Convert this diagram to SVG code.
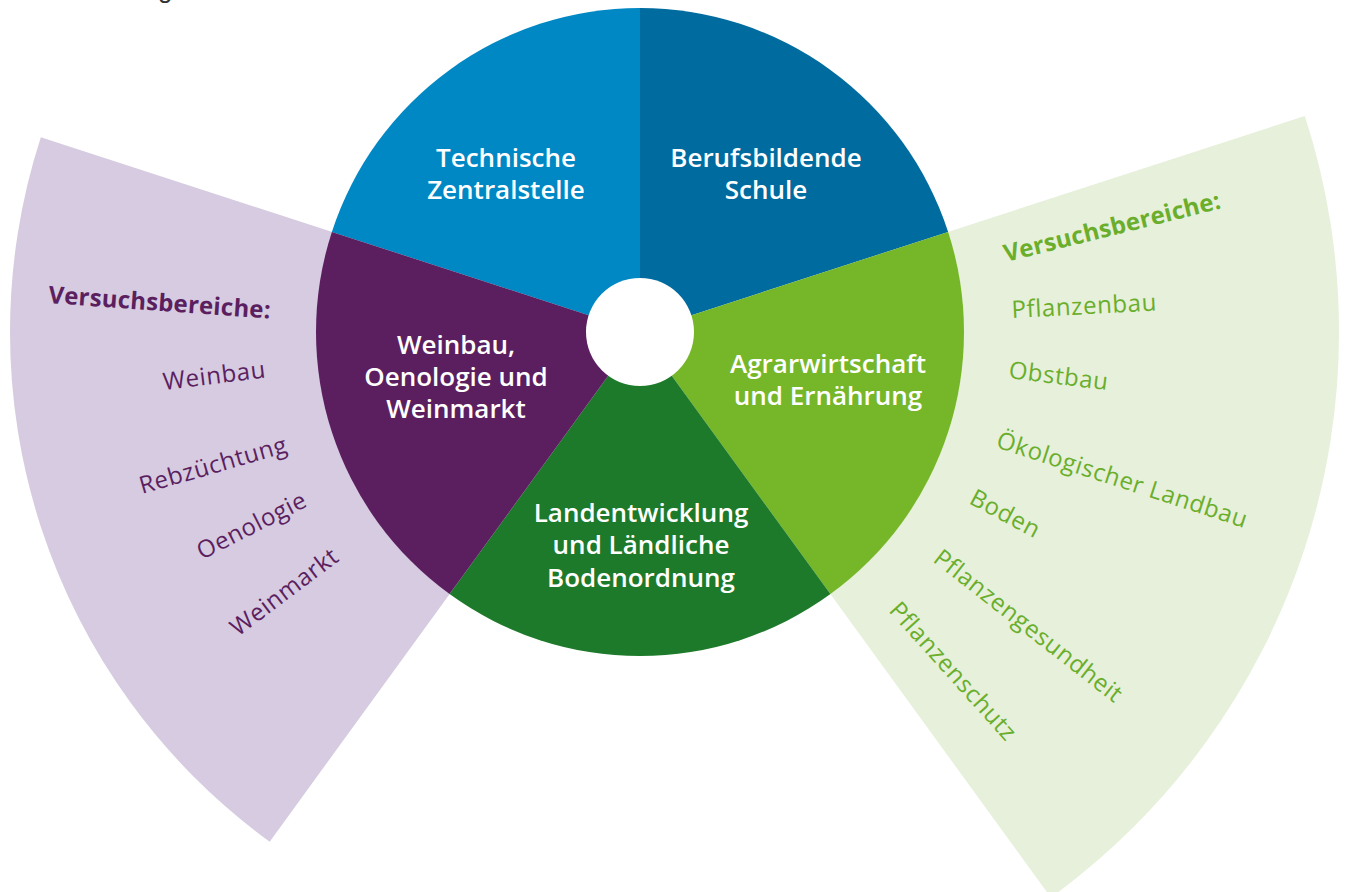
<svg xmlns="http://www.w3.org/2000/svg" width="1349" height="892" viewBox="0 0 1349 892">
  <style>
    .lbl { font-family: "Open Sans", "Noto Sans", sans-serif; font-weight: 600; font-size: 26px; fill: #ffffff; text-anchor: middle; }
    .fan { font-family: "Open Sans", "Noto Sans", sans-serif; font-size: 24px; letter-spacing: 0.6px; }
    .head { font-weight: 700; letter-spacing: 0.2px; }
    .purple { fill: #5b1f60; }
    .green { fill: #6aae2b; }
  </style>
  <rect width="1349" height="892" fill="#ffffff"/>
  <text x="158" y="-2" font-family="Liberation Sans, sans-serif" font-size="26" fill="#333333">g</text>

  <g id="fan-left">
    <path d="M640,332 L269.69,841.68 A630,630 0 0 1 40.83,137.32 Z" fill="#d6cbe0"/>
    <text class="fan head purple" transform="translate(48,303) rotate(4)">Versuchsbereiche:</text>
    <text class="fan purple" transform="translate(164,390) rotate(-7)">Weinbau</text>
    <text class="fan purple" transform="translate(142,494) rotate(-16)">Rebzüchtung</text>
    <text class="fan purple" transform="translate(202,560) rotate(-27)">Oenologie</text>
    <text class="fan purple" transform="translate(238,637) rotate(-37)">Weinmarkt</text>
  </g>

  <g id="fan-right">
    <path d="M640,332 L1304.79,116 A699,699 0 0 1 1050.87,897.5 Z" fill="#e6f0da"/>
    <text class="fan head green" transform="translate(1006,262) rotate(-14)">Versuchsbereiche:</text>
    <text class="fan green" transform="translate(1012,318) rotate(-3)">Pflanzenbau</text>
    <text class="fan green" transform="translate(1008,378) rotate(7)">Obstbau</text>
    <text class="fan green" transform="translate(995,447) rotate(18)">Ökologischer Landbau</text>
    <text class="fan green" transform="translate(968,503) rotate(28)">Boden</text>
    <text class="fan green" transform="translate(932,561) rotate(38)">Pflanzengesundheit</text>
    <text class="fan green" transform="translate(888,611) rotate(48)">Pflanzenschutz</text>
  </g>

  <g id="technische-zentralstelle">
    <path d="M640,332 L331.86,231.88 A324,324 0 0 1 640,8 Z" fill="#0088c4"/>
    <text class="lbl" x="506" y="167">Technische</text>
    <text class="lbl" x="506" y="199">Zentralstelle</text>
  </g>
  <g id="berufsbildende-schule">
    <path d="M640,332 L640,8 A324,324 0 0 1 948.14,231.88 Z" fill="#006b9f"/>
    <text class="lbl" x="766" y="167">Berufsbildende</text>
    <text class="lbl" x="766" y="199">Schule</text>
  </g>
  <g id="agrarwirtschaft">
    <path d="M640,332 L948.14,231.88 A324,324 0 0 1 830.44,594.12 Z" fill="#76b72a"/>
    <text class="lbl" x="828" y="373">Agrarwirtschaft</text>
    <text class="lbl" x="828" y="405">und Ernährung</text>
  </g>
  <g id="landentwicklung">
    <path d="M640,332 L830.44,594.12 A324,324 0 0 1 449.56,594.12 Z" fill="#1d7a2a"/>
    <text class="lbl" x="641" y="522">Landentwicklung</text>
    <text class="lbl" x="641" y="554">und Ländliche</text>
    <text class="lbl" x="641" y="587">Bodenordnung</text>
  </g>
  <g id="weinbau">
    <path d="M640,332 L449.56,594.12 A324,324 0 0 1 331.86,231.88 Z" fill="#5b1f60"/>
    <text class="lbl" x="456" y="354">Weinbau,</text>
    <text class="lbl" x="456" y="386">Oenologie und</text>
    <text class="lbl" x="456" y="418">Weinmarkt</text>
  </g>
  <g id="hub">
    <circle cx="640" cy="332" r="54" fill="#ffffff"/>
  </g>
  <g id="connectors"/>
</svg>
